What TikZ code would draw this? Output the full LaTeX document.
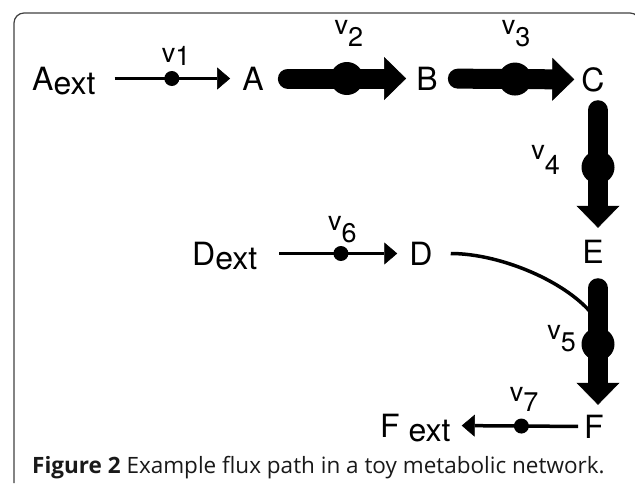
\documentclass[tikz,border=0pt]{standalone}
\usepackage{fontspec}
\setmainfont{TeX Gyre Heros}
\newfontfamily\capfont{Open Sans}
\usepackage{tikz}
\usetikzlibrary{arrows.meta}
\tikzset{met/.style={font=\fontsize{32}{32}\selectfont, inner sep=0pt, text height=23pt, text depth=0pt}}
\tikzset{flux/.style={font=\fontsize{27}{27}\selectfont, inner sep=0pt}}
\tikzset{slim/.style={line width=3.5pt, -{Triangle[length=13pt,width=22pt,line width=0.5pt]}}}
\tikzset{fat/.style={line width=20pt, line cap=round, -{Triangle[length=22pt,width=43pt,line width=0.5pt]}}}
\tikzset{dot/.style={circle, fill, inner sep=0pt, minimum size=15pt}}
\tikzset{bigdot/.style={circle, fill, inner sep=0pt, minimum size=33pt}}
\newcommand{\ext}{\raisebox{-4pt}{ext}}
\newcommand{\vsub}[2][12pt]{v\raisebox{-#1}{#2}}

\begin{document}
\begin{tikzpicture}[x=1pt,y=1pt]
        \useasboundingbox (0,0) rectangle (635,-483);
        \clip (0,0) rectangle (635,-483);
        \draw[line width=1.2pt, black!75, rounded corners=10pt] (14,-483) -- (14,-13) -- (640,-13) -- (640,-483);
        % metabolites
        \node[met, anchor=base west] (Aext) at (32,-90) {A\ext};
        \node[met, anchor=base] (A) at (253,-90) {A};
        \node[met, anchor=base] (B) at (427,-90) {B};
        \node[met, anchor=base] (C) at (593,-91) {C};
        \node[met, anchor=base] (E) at (593,-263) {E};
        \node[met, anchor=base west] (Dext) at (192,-265) {D\ext};
        \node[met, anchor=base] (D) at (421,-265) {D};
        \node[met, anchor=base] (F) at (594,-438) {F};
        \node[met, anchor=base west] (Fext) at (380,-437) {F \ext};
        \coordinate (j) at (598,-322);
        % reactions
        \draw[slim, shorten <=19pt, shorten >=12pt] (Aext.east) -- (A.west)
          node[dot, pos=0.52] {} node[flux, pos=0.55, above=11pt] {\vsub[3pt]{1}};
        \draw[fat, shorten <=24pt, shorten >=10pt] (A.east) -- (B.west)
          node[bigdot, pos=0.545] {} node[flux, pos=0.558, above=22pt] {\vsub{2}};
        \draw[fat, shorten <=20pt, shorten >=7pt] (B.east) -- (C.west)
          node[bigdot, pos=0.538] {} node[flux, pos=0.545, above=22pt] {\vsub{3}};
        \draw[fat, shorten <=19pt, shorten >=12pt] ([xshift=5pt]C.south) -- ([xshift=5pt]C.south |- E.north)
          node[bigdot, pos=0.512] {} node[flux, pos=0.465, left=28pt] {\vsub[15pt]{4}};
        \draw[slim, shorten <=22pt, shorten >=12pt] (Dext.east) -- (D.west)
          node[dot, pos=0.55] {} node[flux, pos=0.56, above=9pt] {\vsub{6}};
        \draw[line width=3.5pt, shorten <=18pt] (D.east) to[out=0, in=122, out distance=70pt, in distance=44pt] (j);
        \draw[fat, shorten <=25pt, shorten >=10pt] ([xshift=5pt]E.south) -- ([xshift=5pt]E.south |- F.north)
          node[bigdot, pos=0.534] {} node[flux, pos=0.5, left=12pt] {\vsub{5}};
        \draw[slim, shorten <=6pt, shorten >=11pt] (F.west) -- (Fext.east)
          node[dot, pos=0.47] {} node[flux, pos=0.449, above=13pt] {\vsub[10pt]{7}};
        % caption
        \node[anchor=base west, inner sep=0pt, text=black!90, font=\capfont\fontsize{22.5}{22.5}\selectfont] (cap) at (32,-473)
          {\textbf{Figure 2} Example flux path in a toy metabolic network.};
      \end{tikzpicture}
\end{document}
